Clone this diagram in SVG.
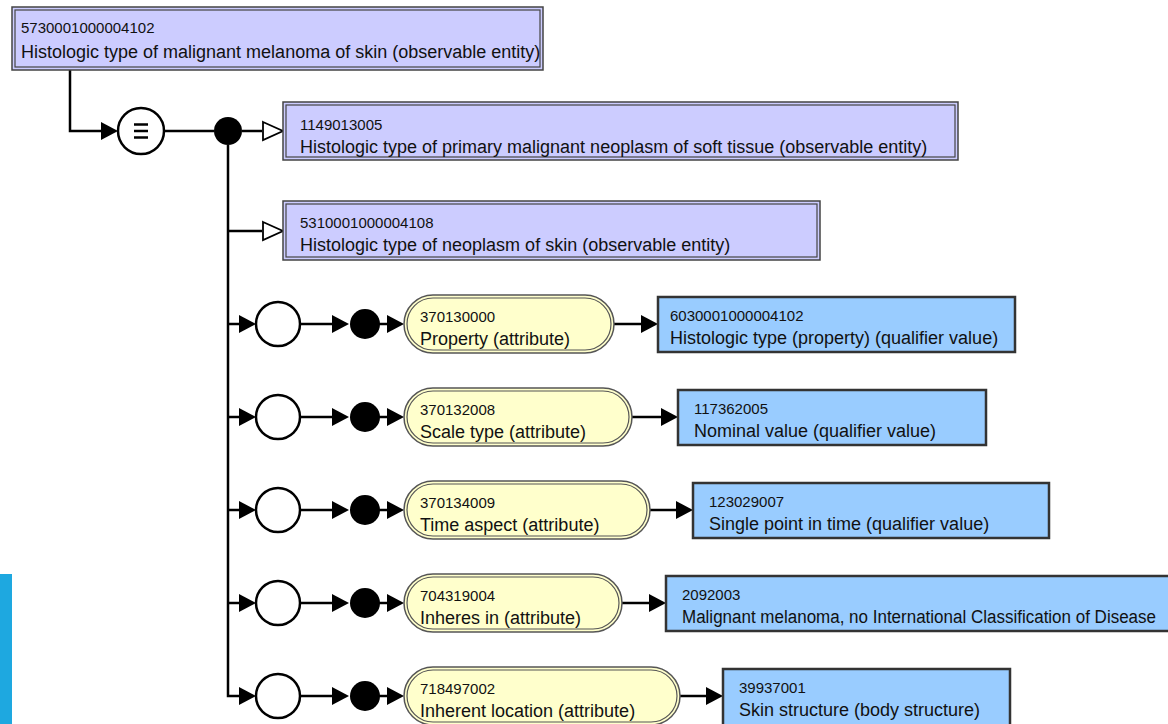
<svg xmlns="http://www.w3.org/2000/svg" width="1168" height="724" viewBox="0 0 1168 724">
<style>
  text { font-family: "Liberation Sans", Arial, sans-serif; fill: #111; }
  .id { font-size: 15px; }
  .lb { font-size: 18px; }
  .con { fill: none; stroke: #000; stroke-width: 2.5; }
  .pO { fill: #CCCCFF; stroke: #444; stroke-width: 1.5; }
  .pI { fill: none; stroke: #444; stroke-width: 1.2; }
  .yO { fill: #FFFFCC; stroke: #555; stroke-width: 1.5; }
  .yI { fill: none; stroke: #555; stroke-width: 1.2; }
  .bl { fill: #99CCFF; stroke: #333; stroke-width: 2.5; }
  .oc { fill: #fff; stroke: #000; stroke-width: 2.5; }
  .dot { fill: #000; }
</style>
<defs>
  <marker id="arr" markerUnits="userSpaceOnUse" markerWidth="20" markerHeight="20" refX="0" refY="9" orient="auto" overflow="visible">
    <path d="M0,0 L17,9 L0,18 z" fill="#000"/>
  </marker>
  <marker id="tri" markerUnits="userSpaceOnUse" markerWidth="24" markerHeight="22" refX="0" refY="10" orient="auto" overflow="visible">
    <path d="M1,1 L21,10 L1,19 z" fill="#fff" stroke="#000" stroke-width="1.8"/>
  </marker>
</defs>

<rect x="0" y="574" width="12" height="150" fill="#1EA8E0"/>

<g id="connectors">
  <path class="con" d="M70,70 V131 H101" marker-end="url(#arr)"/>
  <path class="con" d="M164,131 H214"/>
  <path class="con" d="M242,131 H262" marker-end="url(#tri)"/>
  <path class="con" d="M228,145 V696 H239" marker-end="url(#arr)"/>
  <path class="con" d="M228,231 H262" marker-end="url(#tri)"/>
  <path class="con" d="M228,324 H239" marker-end="url(#arr)"/>
  <path class="con" d="M228,417 H239" marker-end="url(#arr)"/>
  <path class="con" d="M228,510 H239" marker-end="url(#arr)"/>
  <path class="con" d="M228,603 H239" marker-end="url(#arr)"/>
  <path class="con" d="M300,324 H332" marker-end="url(#arr)"/>
  <path class="con" d="M300,417 H332" marker-end="url(#arr)"/>
  <path class="con" d="M300,510 H332" marker-end="url(#arr)"/>
  <path class="con" d="M300,603 H332" marker-end="url(#arr)"/>
  <path class="con" d="M300,696 H332" marker-end="url(#arr)"/>
  <path class="con" d="M379,324 H387" marker-end="url(#arr)"/>
  <path class="con" d="M379,417 H387" marker-end="url(#arr)"/>
  <path class="con" d="M379,510 H387" marker-end="url(#arr)"/>
  <path class="con" d="M379,603 H387" marker-end="url(#arr)"/>
  <path class="con" d="M379,696 H387" marker-end="url(#arr)"/>
  <path class="con" d="M614,324 H641" marker-end="url(#arr)"/>
  <path class="con" d="M632,417 H661" marker-end="url(#arr)"/>
  <path class="con" d="M650,510 H676" marker-end="url(#arr)"/>
  <path class="con" d="M622,603 H649" marker-end="url(#arr)"/>
  <path class="con" d="M680,696 H706" marker-end="url(#arr)"/>
</g>

<g id="n-top">
  <rect class="pO" x="12" y="7" width="531" height="63"/>
  <rect class="pI" x="15" y="10" width="525" height="57"/>
  <text class="id" x="21" y="33">5730001000004102</text>
  <text class="lb" x="21" y="58">Histologic type of malignant melanoma of skin (observable entity)</text>
</g>

<g id="n-equiv">
  <circle class="oc" cx="141" cy="131" r="23"/>
  <path d="M134,124.5 H148 M134,131 H148 M134,137.5 H148" stroke="#000" stroke-width="2.5" fill="none"/>
</g>
<g id="n-conj">
  <circle class="dot" cx="228" cy="131" r="14"/>
</g>

<g id="n-parent1">
  <rect class="pO" x="283" y="102" width="675" height="58"/>
  <rect class="pI" x="286" y="105" width="669" height="52"/>
  <text class="id" x="300" y="130">1149013005</text>
  <text class="lb" x="300" y="153">Histologic type of primary malignant neoplasm of soft tissue (observable entity)</text>
</g>

<g id="n-parent2">
  <rect class="pO" x="283" y="201" width="537" height="59"/>
  <rect class="pI" x="286" y="204" width="531" height="53"/>
  <text class="id" x="300" y="228">5310001000004108</text>
  <text class="lb" x="300" y="251">Histologic type of neoplasm of skin (observable entity)</text>
</g>

<g id="row1">
  <circle class="oc" cx="278" cy="324" r="22"/>
  <circle class="dot" cx="365" cy="324" r="15"/>
  <rect class="yO" x="404" y="295" width="210" height="58" rx="29"/>
  <rect class="yI" x="407" y="298" width="204" height="52" rx="26"/>
  <text class="id" x="420" y="322">370130000</text>
  <text class="lb" x="420" y="345">Property (attribute)</text>
</g>
<g id="v-row1">
  <rect class="bl" x="658" y="297" width="357" height="55"/>
  <text class="id" x="670" y="321">6030001000004102</text>
  <text class="lb" x="670" y="344">Histologic type (property) (qualifier value)</text>
</g>

<g id="row2">
  <circle class="oc" cx="278" cy="417" r="22"/>
  <circle class="dot" cx="365" cy="417" r="15"/>
  <rect class="yO" x="404" y="388" width="228" height="58" rx="29"/>
  <rect class="yI" x="407" y="391" width="222" height="52" rx="26"/>
  <text class="id" x="420" y="415">370132008</text>
  <text class="lb" x="420" y="438">Scale type (attribute)</text>
</g>
<g id="v-row2">
  <rect class="bl" x="678" y="390" width="308" height="55"/>
  <text class="id" x="694" y="414">117362005</text>
  <text class="lb" x="694" y="437">Nominal value (qualifier value)</text>
</g>

<g id="row3">
  <circle class="oc" cx="278" cy="510" r="22"/>
  <circle class="dot" cx="365" cy="510" r="15"/>
  <rect class="yO" x="404" y="481" width="246" height="58" rx="29"/>
  <rect class="yI" x="407" y="484" width="240" height="52" rx="26"/>
  <text class="id" x="420" y="508">370134009</text>
  <text class="lb" x="420" y="531">Time aspect (attribute)</text>
</g>
<g id="v-row3">
  <rect class="bl" x="693" y="483" width="356" height="55"/>
  <text class="id" x="709" y="507">123029007</text>
  <text class="lb" x="709" y="530">Single point in time (qualifier value)</text>
</g>

<g id="row4">
  <circle class="oc" cx="278" cy="603" r="22"/>
  <circle class="dot" cx="365" cy="603" r="15"/>
  <rect class="yO" x="404" y="574" width="218" height="58" rx="29"/>
  <rect class="yI" x="407" y="577" width="212" height="52" rx="26"/>
  <text class="id" x="420" y="601">704319004</text>
  <text class="lb" x="420" y="624">Inheres in (attribute)</text>
</g>
<g id="v-row4">
  <rect class="bl" x="666" y="576" width="520" height="55"/>
  <text class="id" x="682" y="600">2092003</text>
  <text class="lb" x="682" y="623" textLength="474" lengthAdjust="spacingAndGlyphs">Malignant melanoma, no International Classification of Disease</text>
</g>

<g id="row5">
  <circle class="oc" cx="278" cy="696" r="22"/>
  <circle class="dot" cx="365" cy="696" r="15"/>
  <rect class="yO" x="404" y="667" width="276" height="58" rx="29"/>
  <rect class="yI" x="407" y="670" width="270" height="52" rx="26"/>
  <text class="id" x="420" y="694">718497002</text>
  <text class="lb" x="420" y="717">Inherent location (attribute)</text>
</g>
<g id="v-row5">
  <rect class="bl" x="723" y="669" width="287" height="60"/>
  <text class="id" x="739" y="693">39937001</text>
  <text class="lb" x="739" y="716">Skin structure (body structure)</text>
</g>
</svg>
